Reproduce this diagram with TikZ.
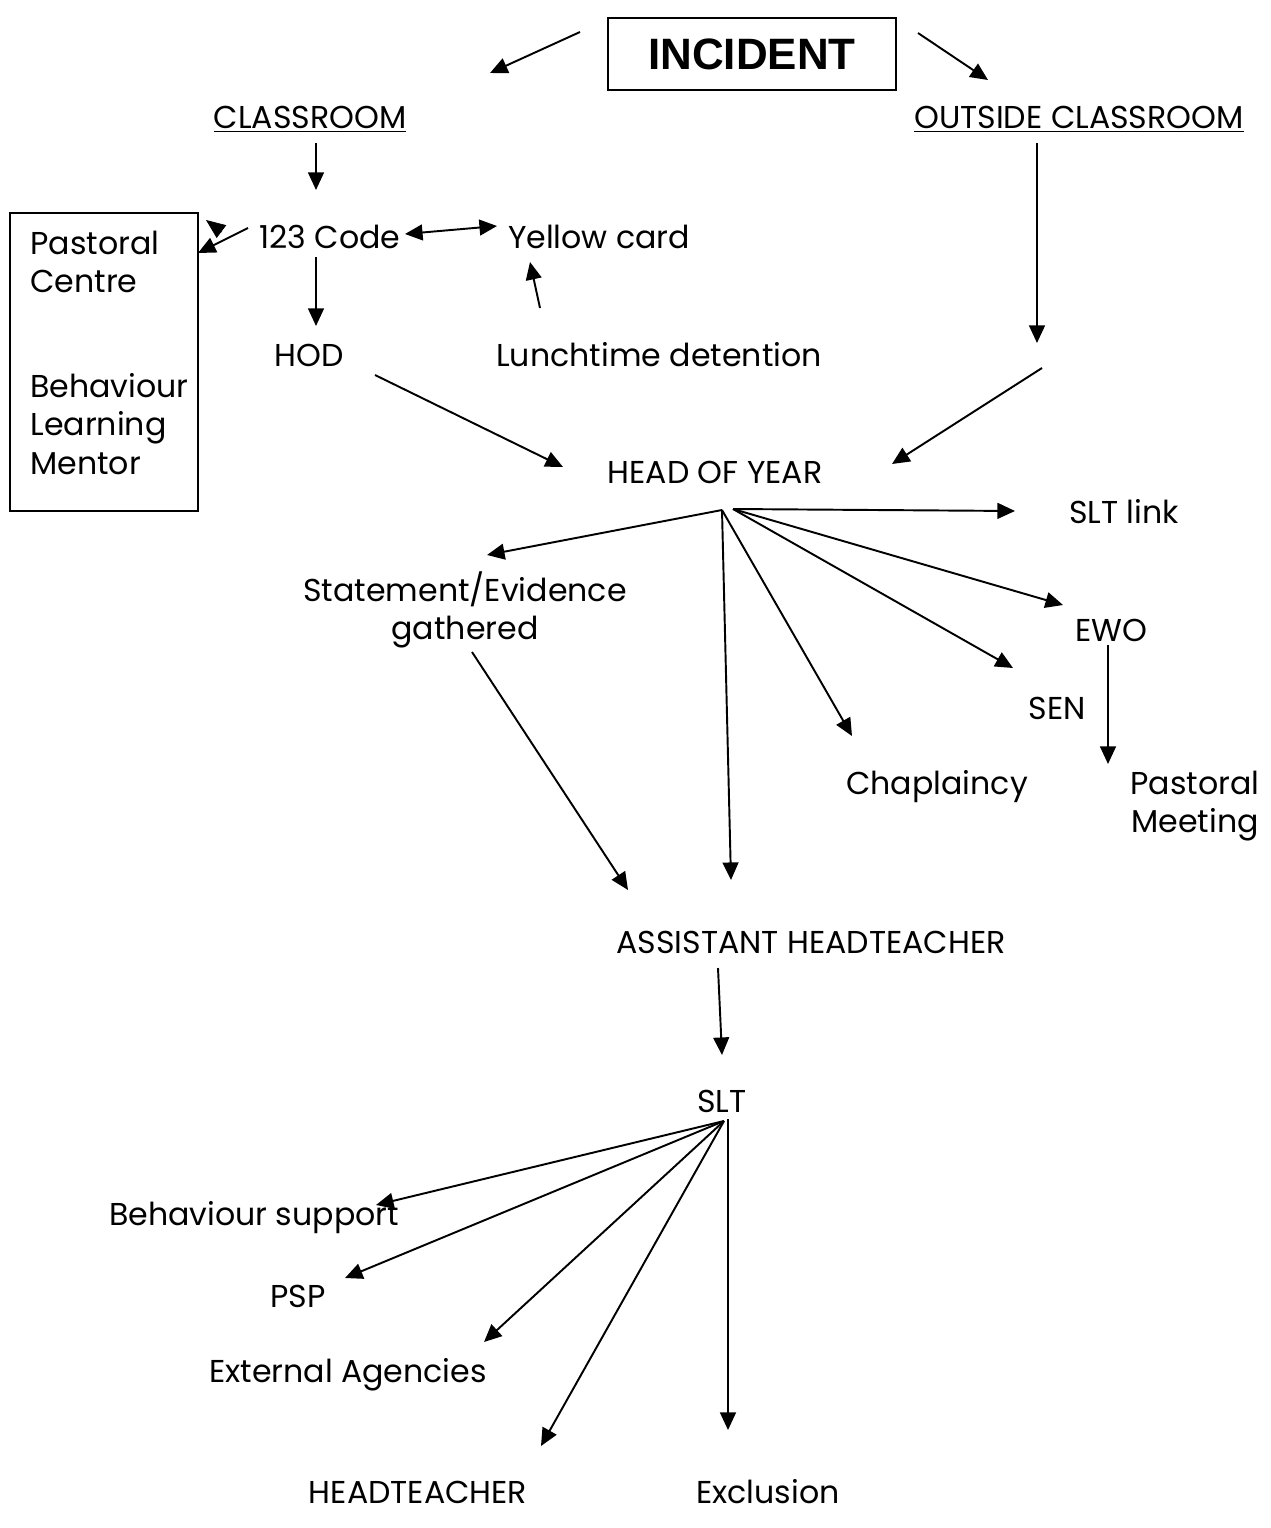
\documentclass[tikz,border=0pt]{standalone}
\usepackage{fontspec}
\setmainfont{Poppins}
\newfontfamily\headfont{Liberation Sans}
\usetikzlibrary{arrows.meta,positioning}
\tikzset{lbl/.style={inner sep=0,font=\fontsize{18}{22}\selectfont},
    lblleft/.style={lbl,anchor=west},
    arr/.style={-{Triangle[length=10pt,width=9pt]},line width=1.1pt},
    dblarr/.style={{Triangle[length=10pt,width=9pt]}-{Triangle[length=10pt,width=9pt]},line width=1.1pt}}

\begin{document}
\begin{tikzpicture}[x=0.02cm,y=-0.02cm]
\useasboundingbox (0,0) rectangle (1271,1528);

% incident and the two places

\node (incident) at (752,54) [draw,line width=1.2pt,minimum width=5.76cm,minimum height=1.44cm,
    font=\headfont\bfseries\fontsize{25}{30}\selectfont] {INCIDENT};
\node (classroom) at (310,119) [lbl] {\underline{CLASSROOM}};
\node (outside) at (1079,119) [lbl] {\underline{OUTSIDE CLASSROOM}};

\coordinate (incL) at (580,32);
\coordinate (incLend) at (490,73);
\coordinate (incR) at (918,33);
\coordinate (incRend) at (988,80);
\draw [arr] (incL) -- (incLend);
\draw [arr] (incR) -- (incRend);

% classroom branch

\node (pastbox) at (104,362) [draw,line width=1.1pt,minimum width=3.76cm,minimum height=5.96cm] {};
\node (pastcentre) at (30,262) [lblleft,align=left] {Pastoral\\Centre};
\node (mentor) at (30,424) [lblleft,align=left] {Behaviour\\Learning\\Mentor};

\node (code) at (330,237) [lbl] {123 Code};
\node (yellow) at (599,237) [lbl] {Yellow card};
\node (hod) at (309,355) [lbl] {HOD};
\node (lunch) at (659,355) [lbl] {Lunchtime detention};

\coordinate (clsDown) at (316,143);
\coordinate (clsDownEnd) at (316,190);
\coordinate (codeL) at (248,228);
\coordinate (boxR) at (198,253);
\coordinate (stray) at (222,232);
\coordinate (strayEnd) at (206,220);
\coordinate (codeR) at (405,234);
\coordinate (yellowL) at (497,226);
\coordinate (codeDown) at (316,257);
\coordinate (hodTop) at (316,326);
\coordinate (lunchUp) at (540,308);
\coordinate (yellowDown) at (530,262);
\coordinate (hodOut) at (375,375);
\coordinate (hoyL) at (563,467);

\draw [arr] (clsDown) -- (clsDownEnd);
\draw [arr] (codeL) -- (boxR);
\draw [-{Triangle[length=11pt,width=9pt]}] (stray) -- (strayEnd);
\draw [dblarr] (codeR) -- (yellowL);
\draw [arr] (codeDown) -- (hodTop);
\draw [arr] (lunchUp) -- (yellowDown);
\draw [arr] (hodOut) -- (hoyL);

% outside branch

\coordinate (outDown) at (1037,143);
\coordinate (outDownEnd) at (1037,343);
\coordinate (outDiag) at (1042,368);
\coordinate (hoyR) at (892,464);
\draw [arr] (outDown) -- (outDownEnd);
\draw [arr] (outDiag) -- (hoyR);

% head of year fan

\node (hoy) at (715,472) [lbl] {HEAD OF YEAR};
\node (sltlink) at (1124,512) [lbl] {SLT link};
\node (statement) at (465,610) [lbl,align=center] {Statement/Evidence\\gathered};
\node (ewo) at (1111,630) [lbl] {EWO};
\node (sen) at (1057,708) [lbl] {SEN};
\node (chaplaincy) at (937,787) [lbl] {Chaplaincy};
\node (pastmeet) at (1195,806) [lbl,align=center] {Pastoral\\Meeting};
\node (assistant) at (811,942) [lbl] {ASSISTANT HEADTEACHER};

\coordinate (hoyHub) at (722,510);
\coordinate (hoyHubR) at (733,509);
\coordinate (toSltlink) at (1015,511);
\coordinate (toStatement) at (487,555);
\coordinate (toEwo) at (1063,605);
\coordinate (toSen) at (1013,668);
\coordinate (toChap) at (852,736);
\coordinate (toAssist) at (731,880);

\draw [arr] (hoyHub) -- (toStatement);
\draw [arr] (hoyHub) -- (toAssist);
\draw [arr] (hoyHub) -- (toChap);
\foreach \target in {toSltlink,toEwo,toSen}
    \draw [arr] (hoyHubR) -- (\target);

\coordinate (ewoDown) at (1108,645);
\coordinate (ewoDownEnd) at (1108,764);
\coordinate (stmOut) at (472,652);
\coordinate (assistL) at (628,890);
\draw [arr] (ewoDown) -- (ewoDownEnd);
\draw [arr] (stmOut) -- (assistL);

% senior leadership fan

\coordinate (assistDown) at (718,968);
\coordinate (sltTop) at (722,1055);
\draw [arr] (assistDown) -- (sltTop);

\node (slt) at (722,1101) [lbl] {SLT};
\node (behsupport) at (254,1218) [lbl] {Behaviour support};
\node (psp) at (298,1296) [lbl] {PSP};
\node (external) at (348,1375) [lbl] {External Agencies};
\node (headteacher) at (418,1492) [lbl] {HEADTEACHER};
\node (exclusion) at (768,1492) [lbl] {Exclusion};

\coordinate (sltHub) at (724,1121);
\coordinate (sltHubV) at (728,1119);
\coordinate (toBeh) at (376,1205);
\coordinate (toPsp) at (345,1278);
\coordinate (toExt) at (484,1342);
\coordinate (toHead) at (541,1446);
\coordinate (toExcl) at (728,1430);

\foreach \target in {toBeh,toPsp,toExt,toHead}
    \draw [arr] (sltHub) -- (\target);
\draw [arr] (sltHubV) -- (toExcl);

\end{tikzpicture}
\end{document}
